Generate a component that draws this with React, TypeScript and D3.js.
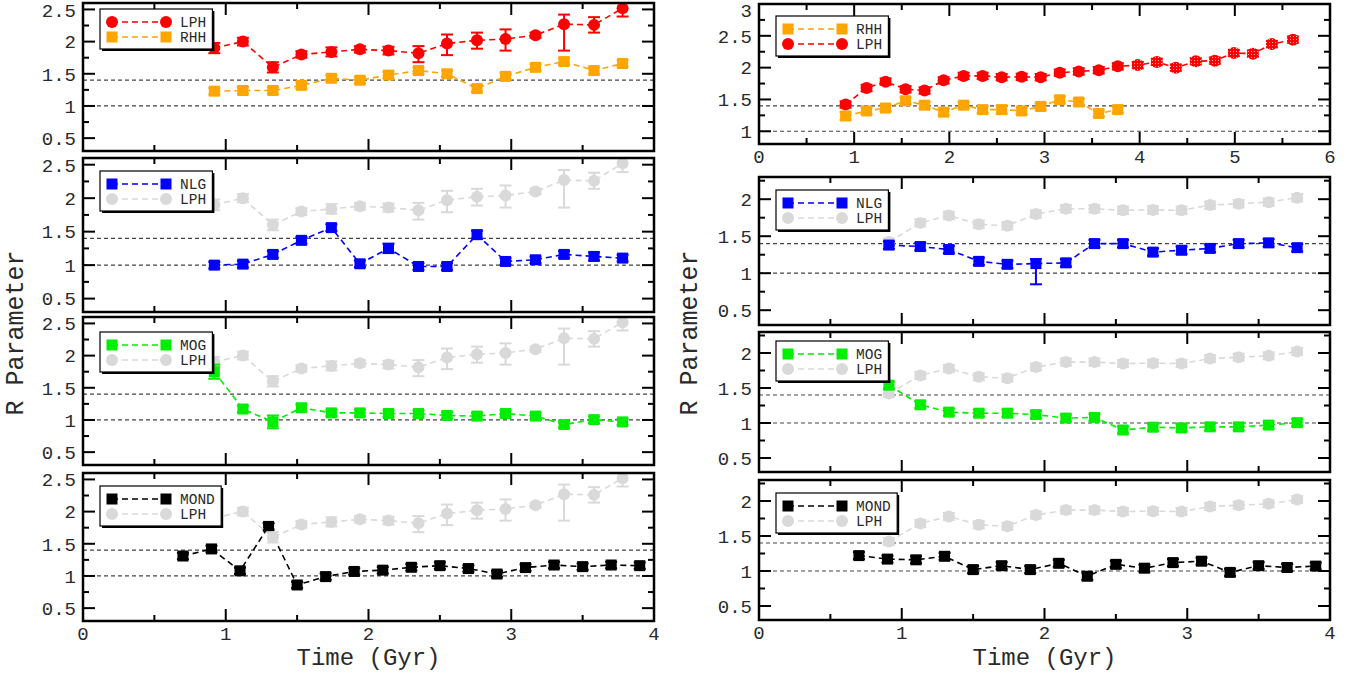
import React, { useEffect, useRef } from "react";
import * as d3 from "d3";

const W = 1363;
const H = 674;
const FONT = "'Liberation Mono', 'Courier New', monospace";
const INK = "#2a2a2a";

// ---- data: left column (simulation times in Gyr)
const tLeft = [0.92, 1.12, 1.33, 1.53, 1.74, 1.94, 2.14, 2.35, 2.55, 2.76, 2.96, 3.17, 3.37, 3.58, 3.78];
const tMond = [0.7, 0.9, 1.1, 1.3, 1.5, 1.7, 1.9, 2.1, 2.3, 2.5, 2.7, 2.9, 3.1, 3.3, 3.5, 3.7, 3.9];

const lphLeft = [1.9, 2.0, 1.6, 1.8, 1.84, 1.88, 1.86, 1.82, 1.97, 2.02, 2.04, 2.1, 2.27, 2.26, 2.52];
const lphLeftLo = [0.08, 0.06, 0.08, 0.05, 0.07, 0.05, 0.06, 0.14, 0.18, 0.13, 0.18, 0.04, 0.41, 0.12, 0.13];
const lphLeftHi = [0.08, 0.06, 0.08, 0.05, 0.07, 0.05, 0.06, 0.11, 0.14, 0.12, 0.15, 0.04, 0.15, 0.12, 0.13];
const rhhLeft = [1.23, 1.24, 1.24, 1.32, 1.43, 1.4, 1.48, 1.55, 1.5, 1.27, 1.46, 1.6, 1.69, 1.55, 1.66];
const rhhLeftErr = [0.05, 0.05, 0.05, 0.05, 0.05, 0.05, 0.05, 0.05, 0.05, 0.05, 0.05, 0.05, 0.05, 0.05, 0.05];
const nlgLeft = [1.0, 1.015, 1.16, 1.37, 1.56, 1.02, 1.25, 0.98, 0.98, 1.455, 1.055, 1.08, 1.16, 1.13, 1.105];
const nlgLeftErr = [0.05, 0.05, 0.05, 0.05, 0.05, 0.05, 0.07, 0.05, 0.05, 0.06, 0.05, 0.05, 0.05, 0.06, 0.05];
const mogLeft = [1.75, 1.17, 0.97, 1.19, 1.11, 1.11, 1.1, 1.1, 1.07, 1.06, 1.1, 1.06, 0.93, 1.005, 0.97];
const mogLeftErr = [0.11, 0.05, 0.1, 0.05, 0.05, 0.05, 0.05, 0.05, 0.05, 0.05, 0.05, 0.05, 0.05, 0.05, 0.05];
const mondLeft = [1.31, 1.42, 1.08, 1.77, 0.86, 0.99, 1.07, 1.09, 1.135, 1.16, 1.115, 1.03, 1.13, 1.17, 1.145, 1.17, 1.16];
const mondLeftErr = [0.05, 0.05, 0.05, 0.05, 0.05, 0.05, 0.05, 0.05, 0.05, 0.05, 0.05, 0.05, 0.05, 0.05, 0.05, 0.05, 0.05];

// ---- data: right column
const tRight = [0.91, 1.13, 1.33, 1.54, 1.74, 1.94, 2.15, 2.35, 2.55, 2.76, 2.96, 3.16, 3.36, 3.57, 3.77,
  3.98, 4.18, 4.38, 4.59, 4.79, 4.99, 5.19, 5.39, 5.61];
const lphRight = [1.42, 1.68, 1.78, 1.66, 1.64, 1.8, 1.87, 1.87, 1.85, 1.855, 1.85, 1.92, 1.94, 1.96, 2.02,
  2.04, 2.09, 2.0, 2.1, 2.11, 2.23, 2.22, 2.37, 2.44];
const lphRightErr = [0.05, 0.05, 0.05, 0.05, 0.05, 0.05, 0.05, 0.05, 0.05, 0.05, 0.05, 0.05, 0.05, 0.05, 0.05,
  0.05, 0.05, 0.05, 0.05, 0.05, 0.05, 0.05, 0.05, 0.05];
const rhhRight = [1.24, 1.32, 1.365, 1.48, 1.41, 1.3, 1.41, 1.34, 1.34, 1.32, 1.39, 1.495, 1.46, 1.28, 1.34];
const rhhRightErr = [0.06, 0.05, 0.05, 0.05, 0.05, 0.05, 0.05, 0.05, 0.06, 0.05, 0.05, 0.05, 0.05, 0.05, 0.05];
const nlgRight = [1.38, 1.36, 1.32, 1.16, 1.12, 1.13, 1.14, 1.4, 1.4, 1.285, 1.31, 1.335, 1.4, 1.41, 1.345];
const nlgRightLo = [0.05, 0.05, 0.05, 0.05, 0.05, 0.28, 0.05, 0.05, 0.05, 0.05, 0.05, 0.05, 0.05, 0.05, 0.05];
const nlgRightHi = [0.05, 0.05, 0.05, 0.05, 0.05, 0.06, 0.05, 0.05, 0.05, 0.05, 0.05, 0.05, 0.05, 0.05, 0.05];
const mogRight = [1.54, 1.26, 1.155, 1.14, 1.14, 1.12, 1.07, 1.08, 0.9, 0.94, 0.93, 0.945, 0.945, 0.97, 1.005];
const mogRightErr = [0.05, 0.05, 0.05, 0.05, 0.05, 0.05, 0.05, 0.05, 0.05, 0.05, 0.05, 0.05, 0.05, 0.05, 0.05];
const mondRight = [1.22, 1.17, 1.16, 1.21, 1.02, 1.076, 1.02, 1.11, 0.925, 1.095, 1.04, 1.12, 1.14, 0.98, 1.076, 1.05, 1.07];
const mondRightErr = [0.05, 0.05, 0.05, 0.05, 0.05, 0.05, 0.05, 0.05, 0.05, 0.05, 0.05, 0.05, 0.05, 0.05, 0.05, 0.05, 0.05];

const refLines = [1.4, 1];

type Series = {
  label: string;
  x: number[];
  y: number[];
  lo: number[];
  hi: number[];
  color: string;
  shape: "circle" | "square";
  hatchFrom?: number;
};

type Panel = {
  left: number;
  right: number;
  top: number;
  bottom: number;
  xDomain: [number, number];
  yDomain: [number, number];
  yLabels: number[];
  xLabels: boolean;
  series: Series[];
  legend: Series[];
  legendDy: number;
};

const RED = "#ff0000";
const ORANGE = "#ffa500";
const GRAY = "#d9d9d9";

const lphL: Series = { label: "LPH", x: tLeft, y: lphLeft, lo: lphLeftLo, hi: lphLeftHi, color: RED, shape: "circle" };
const lphLGray: Series = { ...lphL, color: GRAY };
const rhhL: Series = { label: "RHH", x: tLeft, y: rhhLeft, lo: rhhLeftErr, hi: rhhLeftErr, color: ORANGE, shape: "square" };
const nlgL: Series = { label: "NLG", x: tLeft, y: nlgLeft, lo: nlgLeftErr, hi: nlgLeftErr, color: "#0000ff", shape: "square" };
const mogL: Series = { label: "MOG", x: tLeft, y: mogLeft, lo: mogLeftErr, hi: mogLeftErr, color: "#00ee00", shape: "square" };
const mondL: Series = { label: "MOND", x: tMond, y: mondLeft, lo: mondLeftErr, hi: mondLeftErr, color: "#000000", shape: "square" };

const lphR: Series = { label: "LPH", x: tRight, y: lphRight, lo: lphRightErr, hi: lphRightErr, color: RED, shape: "circle", hatchFrom: 15 };
const lphRGray: Series = { label: "LPH", x: tRight.slice(0, 15), y: lphRight.slice(0, 15), lo: lphRightErr, hi: lphRightErr, color: GRAY, shape: "circle" };
const rhhR: Series = { label: "RHH", x: tRight.slice(0, 15), y: rhhRight, lo: rhhRightErr, hi: rhhRightErr, color: ORANGE, shape: "square" };
const nlgR: Series = { label: "NLG", x: tRight.slice(0, 15), y: nlgRight, lo: nlgRightLo, hi: nlgRightHi, color: "#0000ff", shape: "square" };
const mogR: Series = { label: "MOG", x: tRight.slice(0, 15), y: mogRight, lo: mogRightErr, hi: mogRightErr, color: "#00ee00", shape: "square" };
const mondR: Series = { label: "MOND", x: tMond, y: mondRight, lo: mondRightErr, hi: mondRightErr, color: "#000000", shape: "square" };

const LX0 = 83, LX1 = 654, RX0 = 759, RX1 = 1330;

const panels: Panel[] = [
  { left: LX0, right: LX1, top: 3, bottom: 151, xDomain: [0, 4], yDomain: [0.3, 2.6], yLabels: [0.5, 1, 1.5, 2, 2.5], xLabels: false, series: [rhhL, lphL], legend: [lphL, rhhL], legendDy: 6 },
  { left: LX0, right: LX1, top: 158, bottom: 312, xDomain: [0, 4], yDomain: [0.3, 2.6], yLabels: [0.5, 1, 1.5, 2, 2.5], xLabels: false, series: [lphLGray, nlgL], legend: [nlgL, lphLGray], legendDy: 13 },
  { left: LX0, right: LX1, top: 317, bottom: 465, xDomain: [0, 4], yDomain: [0.3, 2.6], yLabels: [0.5, 1, 1.5, 2, 2.5], xLabels: false, series: [lphLGray, mogL], legend: [mogL, lphLGray], legendDy: 15 },
  { left: LX0, right: LX1, top: 473, bottom: 621, xDomain: [0, 4], yDomain: [0.3, 2.6], yLabels: [0.5, 1, 1.5, 2, 2.5], xLabels: true, series: [mondL, lphLGray], legend: [mondL, lphLGray], legendDy: 13 },
  { left: RX0, right: RX1, top: 4, bottom: 144, xDomain: [0, 6], yDomain: [0.8, 3], yLabels: [1, 1.5, 2, 2.5, 3], xLabels: true, series: [lphR, rhhR], legend: [rhhR, lphR], legendDy: 12 },
  { left: RX0, right: RX1, top: 177, bottom: 325, xDomain: [0, 4], yDomain: [0.3, 2.3], yLabels: [0.5, 1, 1.5, 2], xLabels: false, series: [lphRGray, nlgR], legend: [nlgR, lphRGray], legendDy: 13 },
  { left: RX0, right: RX1, top: 332, bottom: 472, xDomain: [0, 4], yDomain: [0.3, 2.3], yLabels: [0.5, 1, 1.5, 2], xLabels: false, series: [lphRGray, mogR], legend: [mogR, lphRGray], legendDy: 9 },
  { left: RX0, right: RX1, top: 480, bottom: 620, xDomain: [0, 4], yDomain: [0.3, 2.3], yLabels: [0.5, 1, 1.5, 2], xLabels: true, series: [lphRGray, mondR], legend: [mondR, lphRGray], legendDy: 13 },
];

function marker(g: any, shape: string, cx: number, cy: number, fill: string) {
  if (shape === "circle") {
    g.append("circle").attr("cx", cx).attr("cy", cy).attr("r", 6).attr("fill", fill);
  } else {
    g.append("rect").attr("x", cx - 5.5).attr("y", cy - 5.5).attr("width", 11).attr("height", 11).attr("fill", fill);
  }
}

function drawPanel(svg: any, p: Panel, idx: number) {
  const x = d3.scaleLinear().domain(p.xDomain).range([p.left, p.right]);
  const y = d3.scaleLinear().domain(p.yDomain).range([p.bottom, p.top]);
  const g = svg.append("g");

  const clipId = "clip" + idx;
  svg.select("defs").append("clipPath").attr("id", clipId)
    .append("rect").attr("x", p.left).attr("y", p.top).attr("width", p.right - p.left).attr("height", p.bottom - p.top);

  // dashed reference lines at R = 1.4 and R = 1
  refLines.forEach((v) => {
    g.append("line")
      .attr("x1", p.left).attr("x2", p.right)
      .attr("y1", y(v)).attr("y2", y(v))
      .attr("stroke", "#444").attr("stroke-width", 1.2)
      .attr("stroke-dasharray", "4,3");
  });

  const plot = g.append("g").attr("clip-path", `url(#${clipId})`);
  p.series.forEach((s) => {
    const pts = s.y.map((v, i) => [s.x[i], v] as [number, number]);
    const line = d3.line<[number, number]>().x((d) => x(d[0])).y((d) => y(d[1]));
    plot.append("path").attr("d", line(pts)).attr("fill", "none")
      .attr("stroke", s.color).attr("stroke-width", 1.6).attr("stroke-dasharray", "6,4");
    pts.forEach((d, i) => {
      const cx = x(d[0]);
      const y0 = y(d[1] - s.lo[i]);
      const y1 = y(d[1] + s.hi[i]);
      const eg = plot.append("g").attr("stroke", s.color).attr("stroke-width", 2);
      eg.append("line").attr("x1", cx).attr("x2", cx).attr("y1", y0).attr("y2", y1);
      eg.append("line").attr("x1", cx - 6).attr("x2", cx + 6).attr("y1", y0).attr("y2", y0);
      eg.append("line").attr("x1", cx - 6).attr("x2", cx + 6).attr("y1", y1).attr("y2", y1);
      const fill = s.hatchFrom !== undefined && i >= s.hatchFrom ? "url(#hatch)" : s.color;
      marker(plot, s.shape, cx, y(d[1]), fill);
    });
  });

  // frame
  g.append("rect").attr("x", p.left).attr("y", p.top)
    .attr("width", p.right - p.left).attr("height", p.bottom - p.top)
    .attr("fill", "none").attr("stroke", "#000").attr("stroke-width", 2.5);

  // y ticks, mirrored on both sides
  const yt = d3.range(0.25, p.yDomain[1] + 0.001, 0.25).filter((v) => v > p.yDomain[0] && v < p.yDomain[1] + 0.001);
  yt.forEach((v) => {
    const major = Math.abs(v * 2 - Math.round(v * 2)) < 1e-6;
    const len = major ? 12 : 6;
    g.append("line").attr("x1", p.left).attr("x2", p.left + len).attr("y1", y(v)).attr("y2", y(v)).attr("stroke", "#000").attr("stroke-width", 2);
    g.append("line").attr("x1", p.right).attr("x2", p.right - len).attr("y1", y(v)).attr("y2", y(v)).attr("stroke", "#000").attr("stroke-width", 2);
  });
  p.yLabels.forEach((v) => {
    g.append("text").attr("x", p.left - 7).attr("y", Math.max(y(v), 10)).attr("dy", "0.36em")
      .attr("text-anchor", "end").attr("font-family", FONT).attr("font-size", 19).attr("fill", INK)
      .text(String(v));
  });

  // x ticks on top and bottom
  const xt = d3.range(p.xDomain[0] + 0.5, p.xDomain[1], 0.5);
  xt.forEach((v) => {
    const len = Number.isInteger(v) ? 12 : 6;
    g.append("line").attr("x1", x(v)).attr("x2", x(v)).attr("y1", p.bottom).attr("y2", p.bottom - len).attr("stroke", "#000").attr("stroke-width", 2);
    g.append("line").attr("x1", x(v)).attr("x2", x(v)).attr("y1", p.top).attr("y2", p.top + len).attr("stroke", "#000").attr("stroke-width", 2);
  });
  if (p.xLabels) {
    d3.range(p.xDomain[0], p.xDomain[1] + 1).forEach((v) => {
      g.append("text").attr("x", x(v)).attr("y", p.bottom + 19)
        .attr("text-anchor", "middle").attr("font-family", FONT).attr("font-size", 19).attr("fill", INK)
        .text(String(v));
    });
  }

  // legend box with drop shadow
  const lx = p.left + 17;
  const ly = p.top + p.legendDy;
  const maxLen = d3.max(p.legend, (s) => s.label.length) || 3;
  const bw = 80 + maxLen * 8.8 + 6;
  const bh = 40;
  g.append("rect").attr("x", lx + 2).attr("y", ly + 2).attr("width", bw).attr("height", bh).attr("fill", "#000");
  g.append("rect").attr("x", lx).attr("y", ly).attr("width", bw).attr("height", bh)
    .attr("fill", "#fff").attr("stroke", "#000").attr("stroke-width", 1.2);
  p.legend.forEach((s, i) => {
    const ry = ly + 13 + i * 15;
    g.append("line").attr("x1", lx + 12).attr("x2", lx + 66).attr("y1", ry).attr("y2", ry)
      .attr("stroke", s.color).attr("stroke-width", 1.6).attr("stroke-dasharray", "6,4");
    marker(g, s.shape, lx + 12, ry, s.color);
    marker(g, s.shape, lx + 66, ry, s.color);
    g.append("text").attr("x", lx + 80).attr("y", ry).attr("dy", "0.35em")
      .attr("font-family", FONT).attr("font-size", 14.5).attr("fill", INK).text(s.label);
  });
}

export default function App() {
  const ref = useRef<SVGSVGElement>(null);

  useEffect(() => {
    const svg = d3.select(ref.current);
    svg.selectAll("*").remove();
    const defs = svg.append("defs");
    const pat = defs.append("pattern").attr("id", "hatch").attr("patternUnits", "userSpaceOnUse")
      .attr("width", 3).attr("height", 3);
    pat.append("rect").attr("width", 3).attr("height", 3).attr("fill", RED);
    pat.append("rect").attr("width", 1).attr("height", 1).attr("fill", "#ffb0b0");

    svg.append("rect").attr("width", W).attr("height", H).attr("fill", "#fff");
    panels.forEach((p, i) => drawPanel(svg, p, i));

    // axis titles
    [[LX0, LX1], [RX0, RX1]].forEach(([a, b]) => {
      svg.append("text").attr("x", (a + b) / 2).attr("y", 665)
        .attr("text-anchor", "middle").attr("font-family", FONT).attr("font-size", 24).attr("fill", INK)
        .text("Time (Gyr)");
    });
    [23, 697].forEach((xx) => {
      svg.append("text").attr("transform", `translate(${xx},333) rotate(-90)`)
        .attr("text-anchor", "middle").attr("font-family", FONT).attr("font-size", 25).attr("fill", INK)
        .text("R Parameter");
    });
  }, []);

  return (
    <svg ref={ref} width={W} height={H} style={{ position: "absolute", left: 0, top: 0, background: "#fff" }} />
  );
}
